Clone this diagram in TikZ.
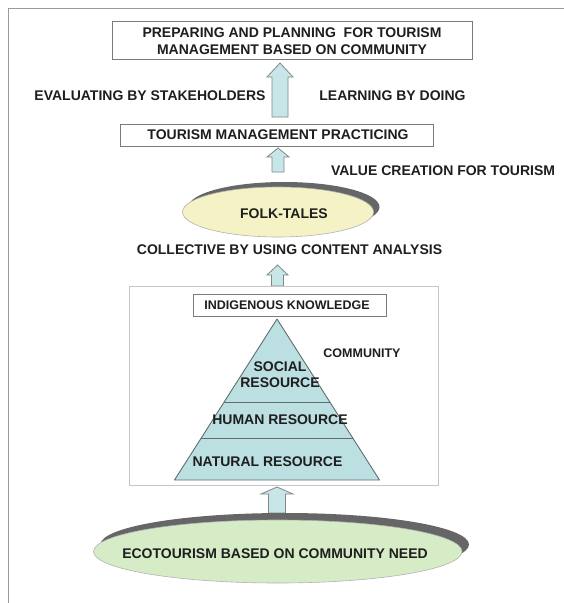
\documentclass[tikz,border=0pt]{standalone}
\usepackage{fontspec}
\setmainfont{Liberation Sans}
\usetikzlibrary{shapes.geometric}
\definecolor{arrowfill}{HTML}{C8E6E8}
\definecolor{arrowline}{HTML}{808888}
\definecolor{pyrfill}{HTML}{BCDFE2}
\definecolor{pyrline}{HTML}{5E6E70}
\definecolor{folkfill}{HTML}{F5F3C6}
\definecolor{ecofill}{HTML}{D6ECC6}
\definecolor{shadowgray}{HTML}{666666}
\definecolor{boxline}{HTML}{7A7A7A}
\definecolor{frameline}{HTML}{9A9A9A}
\definecolor{txt}{HTML}{1E1E1E}
\newcommand{\blockup}[6]{\draw[blockarrow] (#1,#2) -- (#1+#6,#3) -- (#1+#5,#3) -- (#1+#5,#4) -- (#1-#5,#4) -- (#1-#5,#3) -- (#1-#6,#3) -- cycle;}
\begin{document}
\begin{tikzpicture}[x=1pt,y=-1pt,
  lbl/.style={font=\fontsize{14}{17}\selectfont\bfseries, text=txt, inner sep=0pt, align=center},
  lbls/.style={font=\fontsize{12.5}{15}\selectfont\bfseries, text=txt, inner sep=0pt},
  boxnode/.style={draw=boxline, line width=1pt, fill=white, inner sep=0pt},
  blockarrow/.style={draw=arrowline, fill=arrowfill, line width=0.8pt},
  shadowell/.style={ellipse, fill=shadowgray, draw=none, inner sep=0pt},
  ell/.style={ellipse, draw=gray!60, line width=0.6pt, inner sep=0pt}
]
\useasboundingbox (0,0) rectangle (564,603);
% outer frame
\draw[frameline, line width=1.8pt] (8.5,603) -- (8.5,8.5) -- (564,8.5);

% top box
\node[boxnode, minimum width=360pt, minimum height=38pt] (topbox) at (292,40.5) {};
\node[lbl] (toptext) at (292,41.5) {PREPARING AND PLANNING\ \ FOR TOURISM\\MANAGEMENT BASED ON COMMUNITY};

% arrow 1
\blockup{280}{63}{77}{117}{8}{13}
\node[lbl] (evaluating) at (150,96) {EVALUATING BY STAKEHOLDERS};
\node[lbl] (learning) at (392.5,96) {LEARNING BY DOING};

% practicing box
\node[boxnode, minimum width=312.5pt, minimum height=22pt] (practbox) at (276.75,135) {};
\node[lbl] (practtext) at (278,135) {TOURISM MANAGEMENT PRACTICING};

% arrow 2
\blockup{278}{148}{157}{172}{6}{11}
\node[lbl] (value) at (443,171) {VALUE CREATION FOR TOURISM};

% folk-tales ellipse
\node[shadowell, minimum width=191pt, minimum height=50pt] (folkshadow) at (284,207) {};
\node[ell, fill=folkfill, minimum width=191pt, minimum height=50pt] (folk) at (278,212) {};
\node[lbl] (folktext) at (284,214) {FOLK-TALES};

\node[lbl] (collective) at (289.5,250) {COLLECTIVE BY USING CONTENT ANALYSIS};

% arrow 3
\blockup{277.5}{265}{275}{286}{6}{10.5}

% community box
\node[draw=gray!45, line width=1pt, minimum width=308.5pt, minimum height=199pt, inner sep=0pt] (combox) at (283.75,385.5) {};
\node[boxnode, minimum width=193pt, minimum height=22pt] (ikbox) at (289.5,305) {};
\node[lbls] (iktext) at (287,305) {INDIGENOUS KNOWLEDGE};

% pyramid
\fill[pyrfill] (277,319) -- (379.5,480) -- (174.5,480) -- cycle;
\begin{scope}
  \clip (277,319) -- (379.5,480) -- (174.5,480) -- cycle;
  \draw[pyrline, line width=0.9pt] (160,402) -- (395,402);
  \draw[pyrline, line width=0.9pt] (160,438) -- (395,438);
\end{scope}
\draw[pyrline, line width=0.9pt, line join=round] (277,319) -- (379.5,480) -- (174.5,480) -- cycle;
\node[lbl, font=\fontsize{14}{16}\selectfont\bfseries] (social) at (280,375) {SOCIAL\\RESOURCE};
\node[lbl] (human) at (280,420) {HUMAN RESOURCE};
\node[lbl] (natural) at (267.5,462) {NATURAL RESOURCE};
\node[lbls] (community) at (362,353) {COMMUNITY};

% arrow 4
\blockup{277}{487}{494}{513}{8.5}{16}

% ecotourism ellipse
\node[shadowell, minimum width=368.5pt, minimum height=63pt] (ecoshadow) at (284.75,544.5) {};
\node[ell, fill=ecofill, minimum width=368.5pt, minimum height=63pt] (eco) at (277.75,551.5) {};
\node[lbl] (ecotext) at (275,554) {ECOTOURISM BASED ON COMMUNITY NEED};
\end{tikzpicture}
\end{document}
